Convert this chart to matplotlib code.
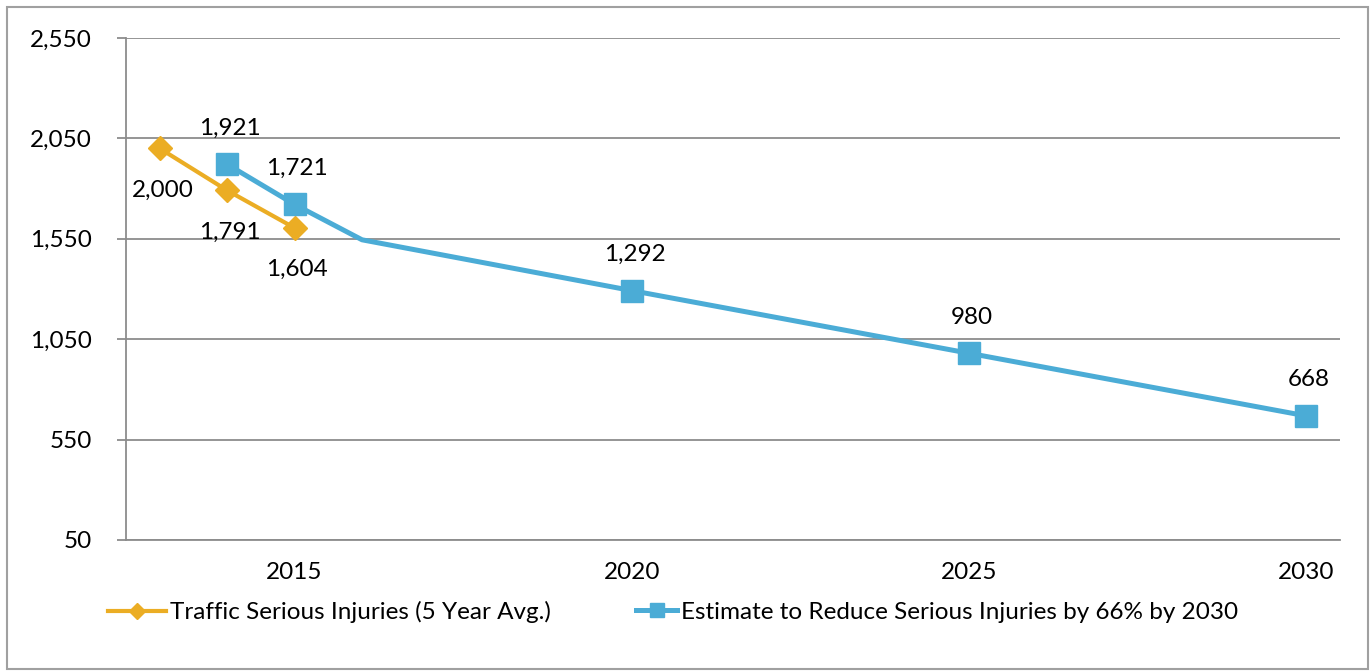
import matplotlib.pyplot as plt
from matplotlib.patches import Rectangle

plt.rcParams['font.family'] = ['Lato', 'DejaVu Sans']

# data
injury_years = [2013, 2014, 2015]
injury_values = [2000, 1791, 1604]

target_years = [2014, 2015, 2016, 2020, 2025, 2030]
target_values = [1921, 1721, 1545, 1292, 980, 668]
target_marked = [True, True, False, True, True, True]

y_ticks = [50, 550, 1050, 1550, 2050, 2550]
x_ticks = [2015, 2020, 2025, 2030]

orange = '#EBAD24'
blue = '#4BACD6'
grid_gray = '#8C8C8C'
fs = 17.5

fig = plt.figure(figsize=(13.72, 6.71), dpi=100)
ax = fig.add_axes([126 / 1372, 1 - 540 / 671, (1340 - 126) / 1372, (540 - 38) / 671])

# outer frame of the chart
fig.patches.append(Rectangle((7 / 1372, 2 / 671), 1361 / 1372, 662 / 671,
                             transform=fig.transFigure, fill=False,
                             edgecolor='#A0A0A0', linewidth=1.5))

line_orange, = ax.plot(injury_years, injury_values, color=orange, linewidth=3, marker='D',
                       markersize=12, label='Traffic Serious Injuries (5 Year Avg.)', zorder=3)

marked = [i for i, m in enumerate(target_marked) if m]
line_blue, = ax.plot(target_years, target_values, color=blue, linewidth=3.6,
                     marker='s', markersize=16, markevery=marked,
                     label='Estimate to Reduce Serious Injuries by 66% by 2030', zorder=3)

# data labels
for x, v in zip(injury_years, injury_values):
    ax.annotate(f'{v:,}', (x, v), xytext=(2, -30), textcoords='offset points',
                ha='center', va='center', fontsize=fs)
for x, v, m in zip(target_years, target_values, target_marked):
    if m:
        ax.annotate(f'{v:,}', (x, v), xytext=(2, 26), textcoords='offset points',
                    ha='center', va='center', fontsize=fs)

ax.set_xlim(2012.5, 2030.5)
ax.set_ylim(50, 2550)
ax.set_yticks(y_ticks)
ax.set_yticklabels([f'{t:,}' for t in y_ticks])
ax.set_xticks(x_ticks)
ax.grid(axis='y', color=grid_gray, linewidth=1.3)
ax.set_axisbelow(True)

for s in ['top', 'right']:
    ax.spines[s].set_visible(False)
for s in ['left', 'bottom']:
    ax.spines[s].set_color(grid_gray)
    ax.spines[s].set_linewidth(1.3)

ax.tick_params(axis='y', length=6.5, width=1.3, color=grid_gray, pad=18, labelsize=fs)
ax.tick_params(axis='x', length=0, pad=16, labelsize=fs)

leg_y = 1 - 612 / 671
leg1 = fig.legend(handles=[line_orange], loc='center left', bbox_to_anchor=(108 / 1372, leg_y),
                  frameon=False, fontsize=fs, handlelength=2.4, handletextpad=0.15,
                  markerscale=0.65, borderaxespad=0, borderpad=0)
fig.legend(handles=[line_blue], loc='center left', bbox_to_anchor=(636 / 1372, leg_y),
           frameon=False, fontsize=fs, handlelength=1.7, handletextpad=0.15,
           markerscale=0.6, borderaxespad=0, borderpad=0)

fig.savefig('out.png', dpi=100)
